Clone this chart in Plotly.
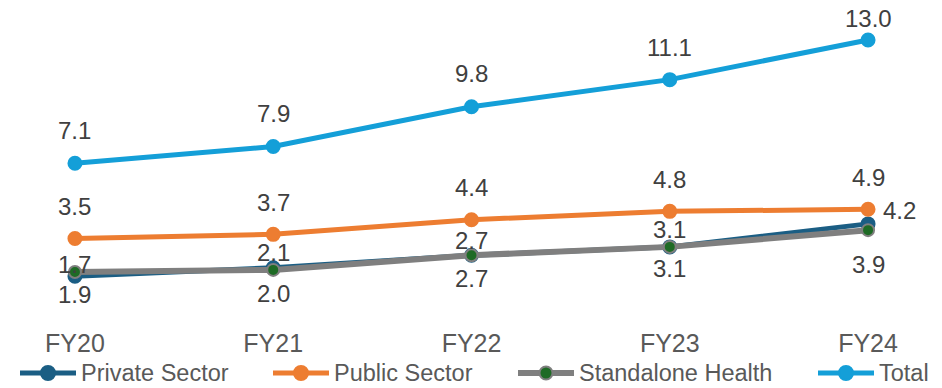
import plotly.graph_objects as go

categories = ["FY20", "FY21", "FY22", "FY23", "FY24"]
private_sector = [1.7, 2.1, 2.7, 3.1, 4.2]
public_sector = [3.5, 3.7, 4.4, 4.8, 4.9]
standalone_health = [1.9, 2.0, 2.7, 3.1, 3.9]
total = [7.1, 7.9, 9.8, 11.1, 13.0]

FONT = "Liberation Sans, Arial, sans-serif"
LABEL_COLOR = "#404040"
AXIS_COLOR = "#595959"
W, H = 942, 388
PLOT_H = 330

fig = go.Figure()

# name, values, line color, marker color, marker outline, line width, marker size,
# label y-shifts, label x-shifts, legend line start (px)
series = [
    ("Private Sector", private_sector, "#1B5E84", "#1B5E84", "#1B5E84", 5, 13,
     [12, 15, 15, 17, 13], [0, 0, 0, 0, 31], 20),
    ("Public Sector", public_sector, "#ED7D31", "#ED7D31", "#ED7D31", 5, 13,
     [32, 32, 32, 32, 32], [0] * 5, 273),
    ("Standalone Health", standalone_health, "#7F7F7F", "#1E6B25", "#7F7F7F", 6, 12,
     [-23, -24, -23, -22, -34], [0] * 5, 518),
    ("Total", total, "#149FD8", "#149FD8", "#149FD8", 5, 13,
     [33, 33, 33, 32, 21], [0] * 5, 818),
]

annotations = []
shapes = []
for name, vals, lc, mc, mlc, lw, ms, ysh, xsh, lx in series:
    fig.add_trace(go.Scatter(
        x=categories, y=vals, name=name, mode="lines+markers",
        line=dict(color=lc, width=lw),
        marker=dict(color=mc, size=ms, line=dict(color=mlc, width=2)),
        hoverinfo="skip", showlegend=False,
    ))
    for c, v, dy, dx in zip(categories, vals, ysh, xsh):
        annotations.append(dict(
            x=c, y=v, text=f"{v:.1f}", showarrow=False,
            xshift=dx, yshift=dy,
            font=dict(family=FONT, size=24, color=LABEL_COLOR),
        ))
    # custom legend entry
    ly = (PLOT_H - 373) / PLOT_H
    shapes.append(dict(
        type="line", xref="paper", yref="paper",
        x0=lx / W, x1=(lx + 56) / W, y0=ly, y1=ly,
        line=dict(color=lc, width=lw),
    ))
    r = ms / 2 + 0.5
    shapes.append(dict(
        type="circle", xref="paper", yref="paper",
        xsizemode="pixel", ysizemode="pixel",
        xanchor=(lx + 28) / W, yanchor=ly,
        x0=-r, x1=r, y0=-r, y1=r,
        fillcolor=mc, line=dict(color=mlc, width=2),
    ))
    annotations.append(dict(
        x=(lx + 59) / W, y=ly, xref="paper", yref="paper",
        xanchor="left", yanchor="middle", text=name, showarrow=False,
        font=dict(family=FONT, size=23.5, color=AXIS_COLOR),
    ))

fig.update_layout(
    width=W, height=H,
    margin=dict(l=0, r=0, t=0, b=H - PLOT_H),
    paper_bgcolor="white", plot_bgcolor="white",
    annotations=annotations,
    shapes=shapes,
    showlegend=False,
    xaxis=dict(
        type="category", range=[-0.378, 4.373],
        showgrid=False, zeroline=False, showline=False,
        ticks="", ticklabelstandoff=-4,
        tickfont=dict(family=FONT, size=25, color=AXIS_COLOR),
    ),
    yaxis=dict(range=[-0.876, 14.91], visible=False),
)

fig.write_html("out.html")
